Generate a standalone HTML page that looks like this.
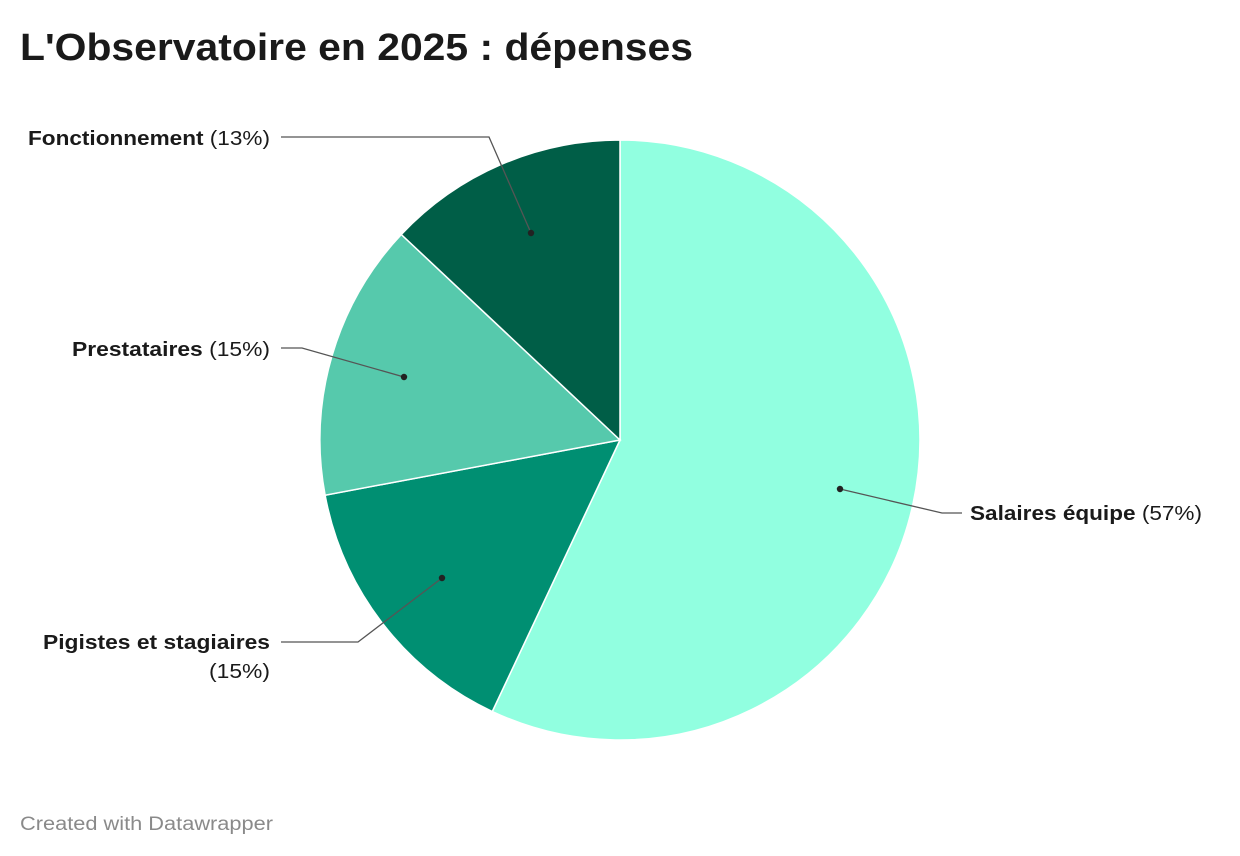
<!DOCTYPE html>
<html><head><meta charset="utf-8"><style>
body{margin:0;background:#fff;}
svg{display:block;font-family:"Liberation Sans",sans-serif;}
</style></head><body>
<svg width="1240" height="856" viewBox="0 0 1240 856">
<text x="20" y="60" font-size="38" font-weight="bold" fill="#1a1a1a" textLength="673" lengthAdjust="spacingAndGlyphs">L'Observatoire en 2025 : dépenses</text>
<g stroke="#fff" stroke-width="1.5">
<path d="M620,440 L620,140 A300,300 0 1 1 492.3,711.5 Z" fill="#91ffe0"/>
<path d="M620,440 L492.3,711.5 A300,300 0 0 1 325.1,495.2 Z" fill="#008f72"/>
<path d="M620,440 L325.1,495.2 A300,300 0 0 1 401.3,234.5 Z" fill="#56c9ac"/>
<path d="M620,440 L401.3,234.5 A300,300 0 0 1 620,140 Z" fill="#005e47"/>
</g>
<g stroke="#555" stroke-width="1.3" fill="none">
<polyline points="281,137 489,137 531,233"/>
<polyline points="281,348 302,348 404,377"/>
<polyline points="281,642 358,642 442,578"/>
<polyline points="962,513 942,513 840,489"/>
</g>
<g fill="#222">
<circle cx="531" cy="233" r="3.2"/><circle cx="404" cy="377" r="3.2"/>
<circle cx="442" cy="578" r="3.2"/><circle cx="840" cy="489" r="3.2"/>
</g>
<g font-size="20" fill="#1a1a1a">
<text x="28" y="145" textLength="242" lengthAdjust="spacingAndGlyphs"><tspan font-weight="bold">Fonctionnement</tspan> (13%)</text>
<text x="72" y="356" textLength="198" lengthAdjust="spacingAndGlyphs"><tspan font-weight="bold">Prestataires</tspan> (15%)</text>
<text x="43" y="649" font-weight="bold" textLength="227" lengthAdjust="spacingAndGlyphs">Pigistes et stagiaires</text>
<text x="209" y="678" textLength="61" lengthAdjust="spacingAndGlyphs">(15%)</text>
<text x="970" y="520" textLength="232" lengthAdjust="spacingAndGlyphs"><tspan font-weight="bold">Salaires équipe</tspan> (57%)</text>
</g>
<text x="20" y="830" font-size="19" fill="#8a8a8a" textLength="253" lengthAdjust="spacingAndGlyphs">Created with Datawrapper</text>
</svg>
</body></html>
